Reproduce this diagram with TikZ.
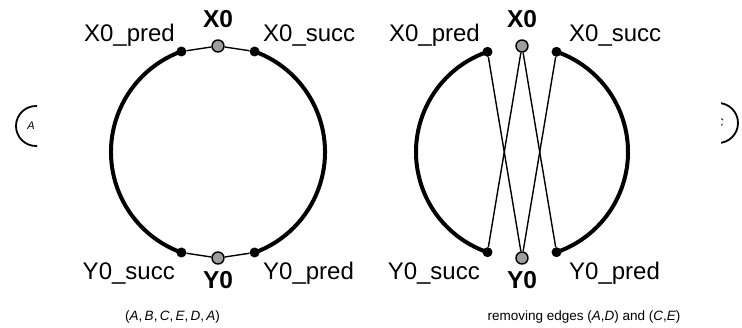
\documentclass[tikz,border=0pt]{standalone}
\usepackage{fontspec}
\setmainfont{Liberation Sans}
\pgfdeclarelayer{bg}
\pgfsetlayers{bg,main}
\begin{document}
\begin{tikzpicture}[x=1pt,y=1pt,
  bdot/.style={circle,fill=black,inner sep=0pt,minimum size=10pt},
  gdot/.style={circle,fill=black!38,draw=black,line width=1.4pt,inner sep=0pt,minimum size=12pt},
  heavy/.style={line width=4pt},
  light/.style={line width=1.4pt},
  lbl/.style={font=\fontsize{24}{28}\selectfont,inner sep=0pt},
  blbl/.style={font=\fontsize{24.5}{28}\selectfont\bfseries,inner sep=0pt},
  capt/.style={font=\fontsize{13.5}{16}\selectfont,inner sep=0pt},
  small/.style={font=\fontsize{11}{13}\selectfont\itshape,inner sep=0pt},
  partial/.style={circle,draw=black,line width=1.8pt,minimum size=40pt,inner sep=0pt}]
\useasboundingbox (0,0) rectangle (742,327);
% ---------- left diagram ----------
\node[bdot] (lxp) at (181.4,275.5) {};
\node[bdot] (lxs) at (254.6,275.5) {};
\node[bdot] (lys) at (181.4,74.5) {};
\node[bdot] (lyp) at (254.6,74.5) {};
\node[gdot] (lx0) at (218,281) {};
\node[gdot] (ly0) at (218,69) {};
\begin{pgfonlayer}{bg}
\draw[heavy] (lxs.center) arc[start angle=70,end angle=-70,radius=107];
\draw[heavy] (lys.center) arc[start angle=250,end angle=110,radius=107];
\draw[light] (lxp) -- (lx0) -- (lxs);
\draw[light] (lys) -- (ly0) -- (lyp);
\end{pgfonlayer}
\node[lbl,anchor=base east] (lxpl) at (175,285) {X0\_pred};
\node[lbl,anchor=base west] (lxsl) at (263,285) {X0\_succ};
\node[lbl,anchor=base east] (lysl) at (175,48) {Y0\_succ};
\node[lbl,anchor=base west] (lypl) at (263,48) {Y0\_pred};
\node[blbl,anchor=base] (lx0l) at (218,299) {X0};
\node[blbl,anchor=base] (ly0l) at (218,39) {Y0};
% ---------- right diagram ----------
\node[bdot] (rxp) at (487.5,275.2) {};
\node[bdot] (rxs) at (556.5,275.2) {};
\node[bdot] (rys) at (487.5,74.8) {};
\node[bdot] (ryp) at (556.5,74.8) {};
\node[gdot] (rx0) at (522,281) {};
\node[gdot] (ry0) at (522,69) {};
\begin{pgfonlayer}{bg}
\draw[heavy] (rxp.center) arc[start angle=109,end angle=251,radius=106];
\draw[heavy] (ryp.center) arc[start angle=-71,end angle=71,radius=106];
\draw[light] (rxp) -- (ry0);
\draw[light] (rx0) -- (rys);
\draw[light] (rx0) -- (ryp);
\draw[light] (rxs) -- (ry0);
\end{pgfonlayer}
\node[lbl,anchor=base east] (rxpl) at (480,285) {X0\_pred};
\node[lbl,anchor=base west] (rxsl) at (569,285) {X0\_succ};
\node[lbl,anchor=base east] (rysl) at (480,48) {Y0\_succ};
\node[lbl,anchor=base west] (rypl) at (569,48) {Y0\_pred};
\node[blbl,anchor=base] (rx0l) at (522,299) {X0};
\node[blbl,anchor=base] (ry0l) at (522,39) {Y0};
% ---------- captions ----------
\node[capt,anchor=base] (capl) at (172.5,6.3) {(\textit{A},\,\textit{B},\,\textit{C},\,\textit{E},\,\textit{D},\,\textit{A})};
\node[capt,anchor=base] (capr) at (584,6.3) {removing edges (\textit{A},\textit{D}) and (\textit{C},\textit{E})};
% ---------- clipped neighbours ----------
\begin{scope}
\clip (0,150) rectangle (37,250);
\node[partial] (pa) at (36,201) {};
\node[small] (pal) at (31,201) {A};
\end{scope}
\begin{scope}
\clip (721,150) rectangle (742,250);
\node[partial] (pc) at (718,204) {};
\node[small] (pcl) at (719.5,204) {C};
\end{scope}
\end{tikzpicture}
\end{document}
